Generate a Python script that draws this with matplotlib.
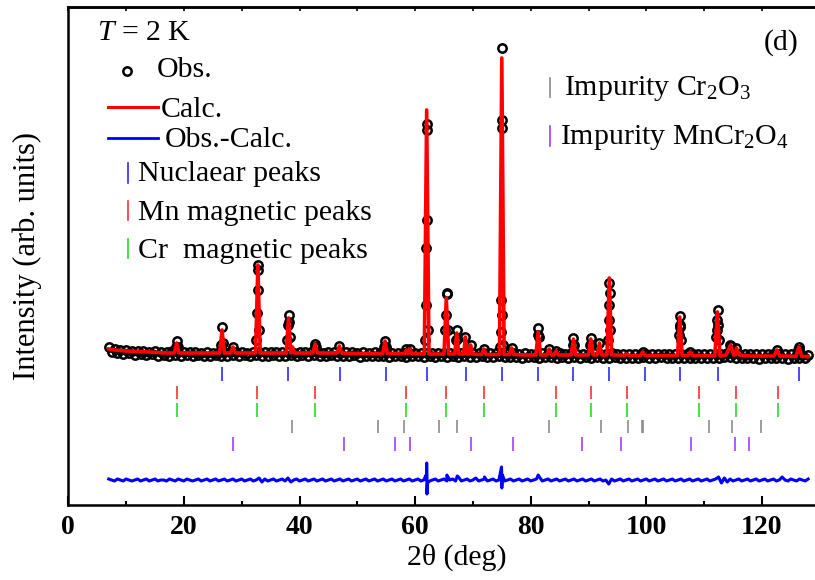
import numpy as np
import matplotlib
matplotlib.use("Agg")
import matplotlib.pyplot as plt

plt.rcParams['font.family'] = ['Liberation Serif', 'DejaVu Serif']
plt.rcParams['mathtext.fontset'] = 'custom'
plt.rcParams['mathtext.rm'] = 'Liberation Serif'
plt.rcParams['mathtext.it'] = 'Liberation Serif:italic'
plt.rcParams['mathtext.bf'] = 'Liberation Serif:bold'

# ---------------- data (arbitrary units) ----------------
# observed points on the background (0.5 deg grid from 7 to 128 deg)
obs_bg_start, obs_bg_step = 7.0, 0.5
obs_bg_int = [
    158,153,156,152,155,151,155,152,154,150,154,151,154,150,153,151,154,149,153,150,
    153,149,154,150,153,149,153,150,153,149,153,150,152,149,153,149,152,150,153,149,
    153,149,153,150,153,149,153,150,152,149,153,150,153,149,153,149,153,150,153,149,
    153,149,153,150,152,149,153,150,153,149,153,150,153,149,152,149,153,150,153,149,
    152,149,153,149,153,150,152,148,153,149,152,149,153,149,152,149,153,148,152,149,
    152,149,152,148,152,149,152,149,152,148,152,149,152,148,152,149,152,148,152,149,
    152,148,152,149,152,148,152,148,152,149,152,148,152,148,152,149,152,148,152,148,
    152,148,151,147,152,148,151,148,151,147,152,148,151,148,151,147,152,148,151,147,
    152,148,151,147,151,148,151,147,152,148,151,147,151,147,152,148,151,147,151,147,
    151,147,151,147,151,148,151,147,151,147,151,148,151,147,151,147,151,147,151,147,
    151,147,151,147,151,147,151,147,151,147,151,147,151,148,152,148,151,147,151,147,
    151,147,151,147,151,146,151,147,151,147,151,147,151,147,151,146,151,147,151,147,
    150,147,150]

# observed points on the Bragg peaks
obs_pk_2theta = [18.6, 18.75, 18.9, 26.45, 26.6, 26.75, 28.5,
                 32.55, 32.65, 32.75, 32.8, 32.9, 33.0,
                 37.9, 38.0, 38.1, 38.2, 38.35, 42.6, 42.7, 42.8, 46.9,
                 54.7, 54.8, 54.9, 58.5, 59.1,
                 61.75, 61.85, 61.9, 62.0, 62.05, 62.1, 62.2,
                 65.25, 65.35, 65.45, 65.55, 65.65, 67.1, 67.2, 67.3, 68.7, 69.6, 71.9,
                 74.75, 74.85, 74.9, 74.97, 75.0, 75.05, 75.12, 75.22, 76.7,
                 81.2, 81.3, 81.4, 83.2, 84.4, 87.3, 87.4, 87.5, 90.3, 90.4, 90.5, 91.9,
                 93.4, 93.5, 93.55, 93.6, 93.65, 93.75, 99.4,
                 105.65, 105.75, 105.8, 105.9, 106.0, 107.6,
                 112.1, 112.2, 112.3, 112.35, 112.45, 112.55, 114.5, 114.7, 115.6,
                 122.6, 126.3, 126.4, 126.5]
obs_pk_int = [158, 164, 158, 160, 178, 162, 158,
              165, 192, 235, 240, 215, 175,
              165, 180, 190, 183, 168, 158, 161, 158, 159,
              158, 164, 158, 156, 156,
              165, 200, 257, 381, 375, 285, 175,
              175, 190, 211, 212, 175, 165, 175, 166, 168, 160, 156,
              158, 173, 205, 385, 457, 377, 190, 160, 157,
              170, 177, 168, 156, 154, 160, 167, 160, 160, 167, 160, 162,
              165, 185, 200, 222, 212, 175, 153,
              170, 180, 189, 178, 165, 153,
              168, 175, 185, 195, 180, 165, 160, 159, 157,
              155, 155, 158, 155]

# calculated profile: background vertices and peak (position, top, half width, base)
calc_bg_2theta = [7.0, 8.0, 10.0, 14.0, 17.0, 22.0, 30.0, 36.0, 45.0, 50.0, 57.0,
                  64.0, 73.5, 79.0, 86.0, 95.0, 102.0, 110.0, 118.0, 121.0, 124.5, 128.0]
calc_bg_int = [156, 155, 154, 153, 152, 152, 152, 152, 152, 151.5, 151.5,
               151, 150.5, 150, 150, 150, 149.5, 149.5, 149, 149, 149, 148.5]
calc_pk_pos = [18.75, 26.6, 28.5, 32.8, 38.1, 38.8, 42.7, 46.9, 54.8, 58.5, 59.1, 62.0,
               65.4, 67.2, 68.7, 69.6, 71.9, 75.0, 76.7, 81.3, 83.2, 84.4, 87.4, 90.4,
               91.9, 93.6, 96.6, 99.4, 105.8, 107.6, 112.3, 114.6, 115.6, 122.6, 126.4]
calc_pk_top = [162, 175, 158, 240, 187, 158, 161, 159, 164, 155, 156, 395,
               207, 172, 168, 160, 156, 447, 157, 173, 156, 154, 166, 166,
               162, 227, 151, 153, 188, 153, 193, 160, 157, 155, 158]
calc_pk_hw = [0.4, 0.4, 0.4, 0.4, 0.4, 0.3, 0.4, 0.4, 0.4, 0.3, 0.3, 0.4,
              0.4, 0.35, 0.3, 0.3, 0.4, 0.4, 0.4, 0.4, 0.4, 0.4, 0.4, 0.4,
              0.4, 0.4, 0.4, 0.4, 0.4, 0.4, 0.45, 0.8, 0.5, 0.5, 0.5]
calc_pk_base = [152, 152, 152, 152, 152, 152, 152, 152, 151.5, 151.5, 151.5, 151,
                151, 151, 151, 151, 150.5, 150.5, 150.5, 150, 150, 150, 150, 150,
                150, 150, 149.5, 149.5, 149.5, 149.5, 149, 150, 150, 149, 148.5]

# difference curve (0.5 deg grid) plus sharp features
diff_start, diff_step = 7.0, 0.5
diff_int = [
    26,25,24,26,25,24,26,25,24,25,26,24,25,26,24,25,26,24,25,25,
    24,26,25,24,26,25,24,26,25,24,25,26,24,25,26,24,25,26,24,25,
    26,24,25,26,24,25,26,24,25,26,24,25,27,23,26,24,25,26,24,25,
    26,24,27,23,25,26,24,25,26,24,25,26,24,25,26,24,25,26,24,25,
    26,24,25,26,24,25,26,24,25,26,24,25,26,24,25,26,24,25,26,24,
    25,26,24,25,26,24,25,26,24,25,26,24,25,26,24,25,26,24,25,26,
    24,28,24,25,26,24,25,27,24,25,26,24,25,26,24,25,26,24,25,26,
    24,25,26,24,25,26,24,25,26,28,24,25,26,24,25,26,24,25,26,24,
    25,26,24,25,26,24,25,26,24,25,26,24,25,21,26,24,25,26,24,25,
    26,24,25,26,24,25,26,24,25,26,24,25,26,24,25,26,24,25,26,24,
    25,26,24,25,26,24,25,26,24,25,26,28,22,27,23,26,24,25,26,24,
    25,26,24,25,26,24,25,26,24,25,26,24,25,28,25,24,26,25,24,26,
    25,24,26]
diff_feat_2theta = [61.9, 62.0, 62.05, 62.15, 65.5, 67.3, 72.0, 74.95, 75.0, 75.1, 81.3]
diff_feat_int = [30, 42, 11, 22, 30, 29, 28, 38, 17, 30, 30]

# Bragg reflection positions
nuc_pos = [26.6, 38.0, 47.0, 54.9, 62.0, 68.75, 75.1, 81.3, 87.4, 93.6, 99.7, 105.9, 112.4, 126.4]
mn_pos = [18.75, 32.7, 42.7, 58.5, 65.4, 72.0, 84.4, 90.5, 96.6, 109.1, 115.6, 122.7]
cr_pos = [18.75, 32.7, 42.7, 58.5, 65.4, 72.0, 84.4, 90.5, 96.6, 109.1, 115.6, 122.7]
cr2o3_pos = [38.75, 53.6, 58.1, 64.1, 67.3, 83.2, 92.2, 96.9, 99.2, 99.5, 110.8, 114.8, 119.8]
mncr2o4_pos = [28.55, 47.65, 56.5, 59.2, 69.7, 77.0, 88.8, 95.7, 107.7, 115.3, 117.8]

# ---------------- build series ----------------
obs_bg_2theta = obs_bg_start + obs_bg_step * np.arange(len(obs_bg_int))
obs_x = np.concatenate([obs_bg_2theta, obs_pk_2theta])
obs_y = np.concatenate([obs_bg_int, obs_pk_int])

cx = list(calc_bg_2theta)
cy = list(calc_bg_int)
for p, t, w, b in zip(calc_pk_pos, calc_pk_top, calc_pk_hw, calc_pk_base):
    cx += [p - w, p, p + w]
    cy += [b, t, b]
order = np.argsort(cx, kind='stable')
calc_x = np.array(cx)[order]
calc_y = np.array(cy)[order]

diff_grid = diff_start + diff_step * np.arange(len(diff_int))
dx = np.concatenate([diff_grid, diff_feat_2theta])
dy = np.concatenate([diff_int, diff_feat_int])
order = np.argsort(dx, kind='stable')
diff_x, diff_y = dx[order], dy[order]

# ---------------- figure ----------------
W, H = 815, 580
fig = plt.figure(figsize=(W / 100, H / 100), dpi=100)
x0, ytop, ybot = 68.3, 7, 505
xmax = 134.5
pxdeg = 5.78
ax = fig.add_axes([x0 / W, (H - ybot) / H, xmax * pxdeg / W, (ybot - ytop) / H])
ax.set_xlim(0, xmax)
ax.set_ylim(0, ybot - ytop)

MS, MEW = 6.0, 1.8
ax.plot(obs_x, obs_y, linestyle='none', marker='o', ms=MS, mfc='none',
        mec='black', mew=MEW, zorder=2)
ax.plot(calc_x, calc_y, color='#ff0000', lw=2.6, zorder=3)
ax.plot(diff_x, diff_y, color='#0000ff', lw=2.2, zorder=3)

rows = [(nuc_pos, '#2a2aff', 124, 138), (mn_pos, '#ff3030', 106, 119),
        (cr_pos, '#22dd22', 88, 102), (cr2o3_pos, '#8c8c8c', 72, 85),
        (mncr2o4_pos, '#a040ff', 54, 68)]
for pos, col, lo, hi in rows:
    ax.vlines(pos, lo, hi, colors=col, lw=1.2, zorder=2)

for s in ax.spines.values():
    s.set_linewidth(1.8)
ax.set_yticks([])
ax.set_xticks(np.arange(0, 121, 20))
ax.set_xticks(np.arange(10, 131, 20), minor=True)
ax.tick_params(axis='x', which='major', direction='in', length=6.5, width=1.5, pad=7,
               labelsize=20)
ax.tick_params(axis='x', which='minor', direction='in', length=3, width=1.5)
for lab in ax.get_xticklabels():
    lab.set_fontweight('bold')
sec = ax.secondary_xaxis('top')
sec.set_xticks(np.arange(0, 131, 10))
sec.tick_params(direction='in', length=3, width=1.2, labeltop=False)
sec.spines['top'].set_linewidth(1.8)

ax.set_xlabel(r'2θ (deg)', fontsize=21.5, labelpad=3)
ax.set_ylabel('Intensity (arb. units)', fontsize=22, labelpad=19)

# ---------------- legend / annotations (pixel positions) ----------------
axw = xmax * pxdeg
def fx(px):
    return (px - x0) / axw
def fy(py):
    return (ybot - py) / (ybot - ytop)

T = ax.transAxes
fs = 21.5
ax.text(fx(97), fy(40), r'$T$ = 2 K', transform=T, fontsize=fs, va='baseline', ha='left')
ax.text(fx(799), fy(50), '(d)', transform=T, fontsize=fs, va='baseline', ha='right')

ax.plot([fx(127)], [fy(71)], transform=T, marker='o', ms=MS, mfc='none', mec='black',
        mew=MEW, linestyle='none')
ax.text(fx(157), fy(77), 'Obs.', transform=T, fontsize=fs, va='baseline')
ax.plot([fx(108), fx(158)], [fy(107), fy(107)], transform=T, color='#ff0000', lw=2.2)
ax.text(fx(161), fy(117), 'Calc.', transform=T, fontsize=fs, va='baseline')
ax.plot([fx(108), fx(158)], [fy(138), fy(138)], transform=T, color='#0000ff', lw=2.0)
ax.text(fx(165), fy(147), 'Obs.-Calc.', transform=T, fontsize=fs, va='baseline')

leg_ticks = [('Nuclaear peaks', '#2a2aff', 163, 183, 181, 128, 138),
             ('Mn magnetic peaks', '#ff3030', 201, 220, 220, 128, 138),
             ('Cr  magnetic peaks', '#22dd22', 239, 258, 258, 128, 138),
             (r'Impurity Cr$_2$O$_3$', '#8c8c8c', 78, 97, 95, 550, 564),
             (r'Impurity MnCr$_2$O$_4$', '#a040ff', 126, 146, 144, 550, 560)]
for lab, col, t0, t1, base, tx, lx in leg_ticks:
    ax.plot([fx(tx), fx(tx)], [fy(t0), fy(t1)], transform=T, color=col, lw=1.2)
    ax.text(fx(lx), fy(base), lab, transform=T, fontsize=fs, va='baseline')

fig.savefig('out.png', dpi=100)
